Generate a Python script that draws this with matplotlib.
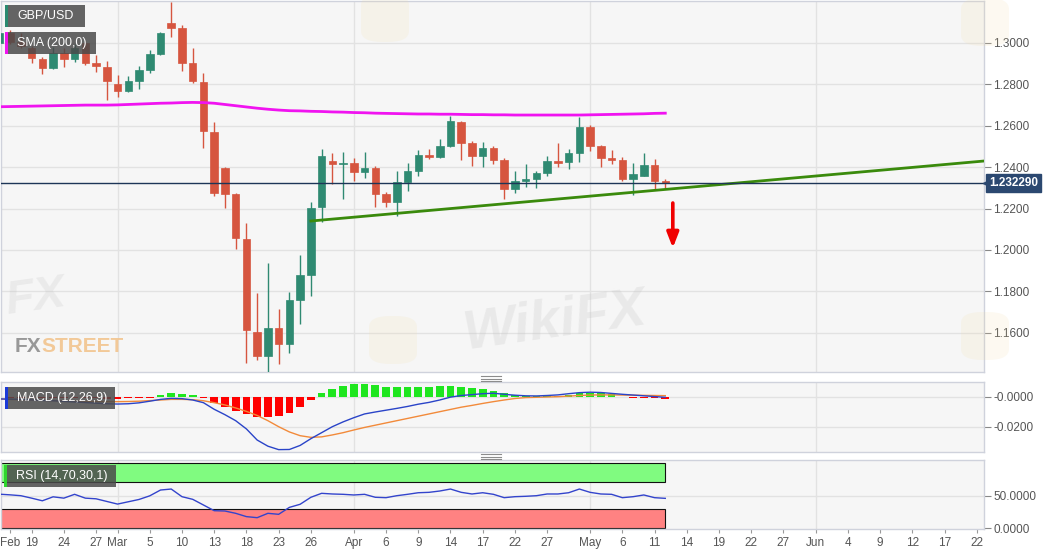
import numpy as np
import pandas as pd
import matplotlib
matplotlib.use('Agg')
import matplotlib.pyplot as plt
from matplotlib.patches import Rectangle, FancyBboxPatch
import matplotlib.transforms as mtransforms

plt.rcParams['font.family'] = ['Liberation Sans', 'DejaVu Sans']

# daily GBP/USD candles, Feb 14 -> May 12 (business days)
first_day = '2020-02-14'
opens = [1.3000, 1.3050, 1.3005, 1.2976, 1.2923, 1.2879, 1.2952, 1.2923, 1.3000, 1.2903,
         1.2884, 1.2802, 1.2768, 1.2816, 1.2870, 1.2947, 1.3097, 1.3072, 1.2903, 1.2812,
         1.2570, 1.2396, 1.2271, 1.2053, 1.1604, 1.1488, 1.1623, 1.1546, 1.1758, 1.1879,
         1.2208, 1.2430, 1.2414, 1.2420, 1.2377, 1.2396, 1.2271, 1.2232, 1.2329, 1.2382,
         1.2459, 1.2450, 1.2502, 1.2618, 1.2517, 1.2454, 1.2493, 1.2435, 1.2295, 1.2333,
         1.2343, 1.2372, 1.2430, 1.2425, 1.2469, 1.2594, 1.2502, 1.2445, 1.2435, 1.2343,
         1.2358, 1.2411, 1.2333]
highs = [1.3070, 1.3062, 1.3050, 1.2986, 1.2932, 1.2981, 1.2976, 1.2995, 1.3010, 1.2942,
         1.2913, 1.2845, 1.2841, 1.2889, 1.2966, 1.3053, 1.3198, 1.3087, 1.2976, 1.2855,
         1.2618, 1.2400, 1.2275, 1.2131, 1.1792, 1.1937, 1.1715, 1.1797, 1.1976, 1.2232,
         1.2488, 1.2469, 1.2474, 1.2445, 1.2474, 1.2406, 1.2280, 1.2382, 1.2420, 1.2483,
         1.2488, 1.2536, 1.2647, 1.2623, 1.2527, 1.2522, 1.2502, 1.2445, 1.2382, 1.2416,
         1.2382, 1.2454, 1.2517, 1.2488, 1.2643, 1.2604, 1.2507, 1.2483, 1.2449, 1.2420,
         1.2469, 1.2440, 1.2343]
lows = [1.2990, 1.2995, 1.2975, 1.2903, 1.2850, 1.2874, 1.2884, 1.2908, 1.2894, 1.2860,
        1.2725, 1.2739, 1.2763, 1.2778, 1.2855, 1.2942, 1.3029, 1.2865, 1.2807, 1.2493,
        1.2261, 1.2203, 1.2005, 1.1454, 1.1469, 1.1411, 1.1449, 1.1502, 1.1643, 1.1778,
        1.2135, 1.2319, 1.2246, 1.2333, 1.2348, 1.2208, 1.2208, 1.2164, 1.2285, 1.2358,
        1.2440, 1.2445, 1.2497, 1.2435, 1.2406, 1.2401, 1.2416, 1.2246, 1.2275, 1.2304,
        1.2300, 1.2358, 1.2401, 1.2391, 1.2425, 1.2478, 1.2401, 1.2416, 1.2333, 1.2266,
        1.2358, 1.2290, 1.2295]
closes = [1.3050, 1.3005, 1.2985, 1.2928, 1.2879, 1.2952, 1.2923, 1.2976, 1.2903, 1.2889,
          1.2816, 1.2768, 1.2816, 1.2870, 1.2947, 1.3048, 1.3072, 1.2903, 1.2816, 1.2575,
          1.2275, 1.2271, 1.2058, 1.1614, 1.1488, 1.1623, 1.1546, 1.1758, 1.1879, 1.2203,
          1.2454, 1.2416, 1.2418, 1.2377, 1.2396, 1.2271, 1.2232, 1.2329, 1.2382, 1.2459,
          1.2450, 1.2502, 1.2623, 1.2517, 1.2454, 1.2493, 1.2435, 1.2295, 1.2333, 1.2343,
          1.2372, 1.2430, 1.2420, 1.2469, 1.2594, 1.2502, 1.2445, 1.2435, 1.2343, 1.2367,
          1.2411, 1.2333, 1.2323]
sma200 = [1.2692, 1.2693, 1.2694, 1.2695, 1.2696, 1.2697, 1.2698, 1.2699, 1.2700, 1.2700,
          1.2700, 1.2701, 1.2703, 1.2705, 1.2707, 1.2709, 1.2710, 1.2712, 1.2713, 1.2712,
          1.2709, 1.2703, 1.2697, 1.2691, 1.2685, 1.2680, 1.2676, 1.2673, 1.2672, 1.2670,
          1.2669, 1.2667, 1.2666, 1.2664, 1.2663, 1.2661, 1.2660, 1.2659, 1.2658, 1.2657,
          1.2657, 1.2656, 1.2656, 1.2655, 1.2654, 1.2654, 1.2653, 1.2653, 1.2652, 1.2652,
          1.2652, 1.2652, 1.2652, 1.2652, 1.2652, 1.2653, 1.2654, 1.2655, 1.2656, 1.2657,
          1.2658, 1.2660, 1.2661]
macd_line = [-0.0015, -0.0016, -0.0018, -0.0021, -0.0025, -0.0027, -0.0031, -0.0035, -0.0039, -0.0043,
             -0.0047, -0.0049, -0.0047, -0.0041, -0.0030, -0.0018, -0.0011, -0.0013, -0.0022, -0.0040,
             -0.0084, -0.0120, -0.0160, -0.0215, -0.0289, -0.0330, -0.0353, -0.0352, -0.0325, -0.0280,
             -0.0240, -0.0200, -0.0168, -0.0140, -0.0115, -0.0102, -0.0090, -0.0078, -0.0065, -0.0050,
             -0.0038, -0.0022, -0.0003, 0.0008, 0.0014, 0.0020, 0.0023, 0.0016, 0.0010, 0.0006,
             0.0005, 0.0008, 0.0012, 0.0020, 0.0027, 0.0030, 0.0028, 0.0022, 0.0016, 0.0011,
             0.0006, 0.0001, -0.0004]
macd_signal = [-0.0015, -0.0018, -0.0020, -0.0022, -0.0024, -0.0026, -0.0028, -0.0030, -0.0031, -0.0032,
               -0.0033, -0.0033, -0.0032, -0.0030, -0.0026, -0.0022, -0.0018, -0.0018, -0.0020, -0.0027,
               -0.0040, -0.0055, -0.0075, -0.0098, -0.0125, -0.0160, -0.0200, -0.0235, -0.0260, -0.0271,
               -0.0268, -0.0255, -0.0240, -0.0222, -0.0205, -0.0190, -0.0175, -0.0160, -0.0145, -0.0130,
               -0.0115, -0.0100, -0.0085, -0.0070, -0.0058, -0.0045, -0.0033, -0.0022, -0.0012, -0.0006,
               -0.0004, -0.0002, 0.0000, 0.0004, 0.0008, 0.0011, 0.0012, 0.0012, 0.0011, 0.0010,
               0.0009, 0.0008, 0.0007]
macd_hist = [-0.0005, -0.0006, -0.0007, -0.0008, -0.0009, -0.0009, -0.0010, -0.0011, -0.0012, -0.0012,
             -0.0013, -0.0013, -0.0012, -0.0010, -0.0006, 0.0010, 0.0022, 0.0018, 0.0011, -0.0011,
             -0.0044, -0.0067, -0.0093, -0.0117, -0.0137, -0.0133, -0.0129, -0.0107, -0.0071, -0.0022,
             0.0027, 0.0049, 0.0073, 0.0083, 0.0085, 0.0078, 0.0067, 0.0067, 0.0067, 0.0067,
             0.0067, 0.0071, 0.0073, 0.0067, 0.0056, 0.0051, 0.0040, 0.0023, 0.0011, 0.0005,
             0.0003, 0.0004, 0.0006, 0.0012, 0.0023, 0.0027, 0.0023, 0.0016, -0.0005, -0.0008,
             -0.0010, -0.0012, -0.0015]
rsi = [52.0, 51.0, 49.7, 46.0, 42.0, 48.0, 46.0, 51.8, 46.0, 45.0,
       41.0, 37.0, 40.5, 44.0, 49.5, 58.3, 59.8, 48.2, 44.2, 35.6,
       27.0, 26.5, 23.0, 18.0, 16.4, 23.0, 21.5, 32.0, 36.7, 47.3,
       53.3, 52.3, 51.8, 50.8, 51.8, 47.3, 46.7, 49.7, 51.8, 54.2,
       54.8, 56.8, 59.8, 54.8, 52.3, 54.2, 51.8, 46.7, 48.2, 48.8,
       49.7, 52.3, 52.3, 54.2, 59.8, 54.8, 52.3, 51.8, 46.7, 48.2,
       50.8, 46.7, 45.7]

last_price = 1.232290
trend_start = ('2020-03-26', 1.2140)
trend_end = ('2020-06-24', 1.2436)
arrow_day = '2020-05-13'
arrow_from, arrow_to = 1.2227, 1.2010

price_ticks = [1.16, 1.18, 1.20, 1.22, 1.24, 1.26, 1.28, 1.30]
month_days = ['2020-03-02', '2020-04-01', '2020-05-01', '2020-06-01']
tick_days = ['2020-02-17', '2020-02-19', '2020-02-24', '2020-02-27', '2020-03-02', '2020-03-05',
             '2020-03-10', '2020-03-13', '2020-03-18', '2020-03-23', '2020-03-26', '2020-04-01',
             '2020-04-06', '2020-04-09', '2020-04-14', '2020-04-17', '2020-04-22', '2020-04-27',
             '2020-05-01', '2020-05-06', '2020-05-11', '2020-05-14', '2020-05-19', '2020-05-22',
             '2020-05-27', '2020-06-01', '2020-06-04', '2020-06-09', '2020-06-12', '2020-06-17',
             '2020-06-22']
tick_labels = ['Feb', '19', '24', '27', 'Mar', '5', '10', '13', '18', '23', '26', 'Apr', '6', '9',
               '14', '17', '22', '27', 'May', '6', '11', '14', '19', '22', '27', 'Jun', '4', '9',
               '12', '17', '22']

days = pd.bdate_range(first_day, periods=120)
def day_idx(d):
    return days.get_loc(pd.Timestamp(d))

x = np.arange(len(opens))
o = np.array(opens); c = np.array(closes)
up_col, dn_col = '#2f8a72', '#d6553f'
cols = np.where(c >= o, up_col, dn_col)

W, H = 1060, 555
fig = plt.figure(figsize=(W / 100, H / 100), dpi=100)
axw = 983 / W
ax1 = fig.add_axes([0.0005, (H - 372) / H, axw, 371 / H])
ax2 = fig.add_axes([0.0005, (H - 452) / H, axw, 70 / H])
ax3 = fig.add_axes([0.0005, (H - 529) / H, axw, 69 / H])

xlim = (0.106, 91.63)
grid_c = '#e2e2e2'
for ax in (ax1, ax2, ax3):
    ax.set_facecolor('#f6f6f6')
    ax.set_xlim(*xlim)
    for s in ax.spines.values():
        s.set_color('#cfd2dc')
        s.set_linewidth(1)
    ax.yaxis.tick_right()
    ax.tick_params(axis='y', colors='#888888', labelcolor='#555555', labelsize=8.5,
                   length=5, width=0.8, pad=2)
    for d in month_days:
        ax.axvline(day_idx(d), color=grid_c, lw=1, zorder=0)
    ax.set_xticks([day_idx(d) for d in tick_days])

ax1.tick_params(axis='x', length=0, labelbottom=False)
ax2.tick_params(axis='x', length=0, labelbottom=False)
ax3.set_xticklabels(tick_labels)
ax3.tick_params(axis='x', colors='#999999', labelcolor='#555555', labelsize=8.5, length=3, pad=3)

# ---- price panel
ax1.set_ylim(1.14106, 1.32029)
ax1.set_yticks(price_ticks)
ax1.set_yticklabels(['%.4f' % v for v in price_ticks])
for v in price_ticks:
    ax1.axhline(v, color=grid_c, lw=1, zorder=0)

ax1.vlines(x, lows, highs, colors=cols, lw=1, zorder=3)
ax1.bar(x, np.maximum(np.abs(c - o), 0.00025), bottom=np.minimum(o, c), width=0.7,
        color=cols, edgecolor=cols, linewidth=0.5, zorder=4)
ax1.plot(x, sma200, color='#f013f0', lw=2, zorder=5)
ax1.plot([day_idx(trend_start[0]), day_idx(trend_end[0])], [trend_start[1], trend_end[1]],
         color='#3a8a0c', lw=2, zorder=6)
ax1.axhline(last_price, color='#1d3557', lw=1, zorder=7)
ax1.annotate('', xy=(day_idx(arrow_day) - 0.3, arrow_to), xytext=(day_idx(arrow_day) - 0.3, arrow_from),
             arrowprops=dict(arrowstyle='-|>,head_width=0.35,head_length=0.9', color='#f00000',
                             lw=2.6, shrinkA=0, shrinkB=0), zorder=8)

tr = mtransforms.blended_transform_factory(ax1.transAxes, ax1.transData)
ax1.text(1.006, last_price, '1.232290', transform=tr, color='white', fontsize=8.5,
         fontweight='bold', va='center', ha='left',
         bbox=dict(boxstyle='square,pad=0.25', fc='#2b4870', ec='#2b4870'), zorder=10, clip_on=False)
ax1.plot([1.003], [last_price], marker='<', ms=5, color='#2b4870', transform=tr, clip_on=False, zorder=10)

# ---- MACD panel
ax2.set_ylim(-0.03688, 0.0098)
ax2.set_yticks([0.0, -0.02])
ax2.set_yticklabels(['-0.0000', '-0.0200'])
ax2.axhline(0, color=grid_c, lw=1, zorder=0)
ax2.axhline(-0.02, color=grid_c, lw=1, zorder=0)
h = np.array(macd_hist)
ax2.bar(x, h, width=0.72, color=np.where(h >= 0, '#1fe61f', '#ff0000'), zorder=2)
ax2.plot(x, macd_signal, color='#f28a3a', lw=1, zorder=3)
ax2.plot(x, macd_line, color='#2a44c8', lw=1, zorder=4)

# ---- RSI panel
ax3.set_ylim(-0.76, 103.8)
ax3.set_yticks([0, 50])
ax3.set_yticklabels(['0.0000', '50.0000'])
ax3.axhline(50, color=grid_c, lw=1, zorder=0)
ax3.add_patch(Rectangle((x[0] - 0.5, 70), x[-1] - x[0] + 0.5, 30, fc='#80fb80', ec='#111111', lw=0.8, zorder=1))
ax3.add_patch(Rectangle((x[0] - 0.5, 0), x[-1] - x[0] + 0.5, 30, fc='#ff8282', ec='#111111', lw=0.8, zorder=1))
ax3.plot(x, rsi, color='#3344cc', lw=1, zorder=3)

# ---- overlay labels (pixel positions from top-left)
def fx(px):
    return px / W
def fy(py):
    return 1 - py / H

def tag(x0, y0, w, hh, stripe, label):
    fig.add_artist(Rectangle((fx(x0), fy(y0 + hh)), fx(w), hh / H, transform=fig.transFigure,
                             fc='#4a4a4a', alpha=0.85, ec='none', zorder=20))
    fig.add_artist(Rectangle((fx(x0), fy(y0 + hh)), fx(2.5), hh / H, transform=fig.transFigure,
                             fc=stripe, ec='none', zorder=21))
    fig.text(fx(x0 + 12), fy(y0 + hh / 2), label, color='white', fontsize=9, va='center',
             ha='left', zorder=22)

tag(5, 5, 80, 22, '#2a8a70', 'GBP/USD')
tag(5, 32, 91, 22, '#f013f0', 'SMA (200,0)')
tag(5, 387, 110, 22, '#1a3ad8', 'MACD (12,26,9)')
tag(4, 465, 112, 22, '#2ed62e', 'RSI (14,70,30,1)')

# panel resize handles
for yy in (376, 378.5, 381, 454, 456.5, 459):
    fig.add_artist(plt.Line2D([fx(481), fx(501)], [fy(yy), fy(yy)], color='#8c8c8c', lw=0.8))

# FXStreet logo
fig.text(fx(15), fy(352), 'FX', color='#8e8e8e', fontsize=15, fontweight='bold',
         va='baseline', alpha=0.9)
fig.text(fx(41), fy(352), 'STREET', color='#f2c48e', fontsize=15, fontweight='bold',
         va='baseline', alpha=0.9)

# faint WikiFX watermarks
fig.text(fx(555), fy(322), 'WikiFX', color='#bdbdbd', fontsize=40, fontweight='bold',
         ha='center', va='center', rotation=8, alpha=0.22, style='italic')
fig.text(fx(2), fy(298), 'FX', color='#bdbdbd', fontsize=34, fontweight='bold',
         ha='left', va='center', rotation=8, alpha=0.2, style='italic')
for cx, cy in [(393, 340), (985, 336), (985, 22), (385, 18)]:
    fig.add_artist(FancyBboxPatch((fx(cx - 24), fy(cy + 24)), fx(48), 48 / H,
                                  boxstyle='round,pad=0,rounding_size=0.02', transform=fig.transFigure,
                                  fc='#f3deaa', ec='none', alpha=0.16, zorder=15))

fig.savefig('out.png', dpi=100)
